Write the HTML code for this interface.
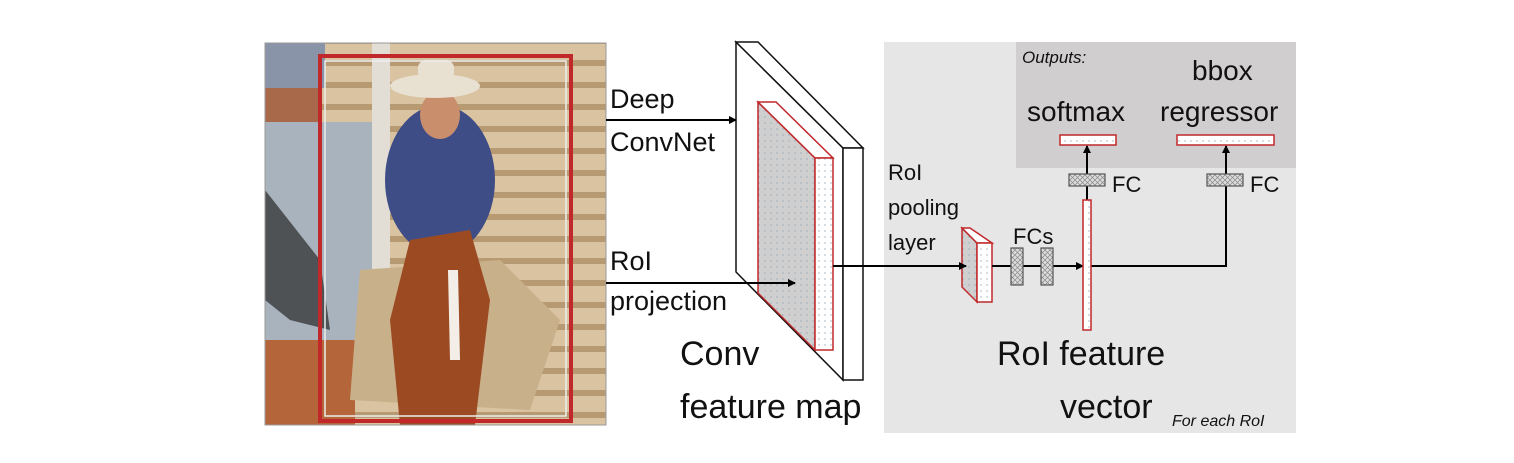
<!DOCTYPE html>
<html><head><meta charset="utf-8"><style>
body{margin:0;background:#fff;width:1514px;height:458px;overflow:hidden}
svg text{font-family:"Liberation Sans",sans-serif;fill:#111}
</style></head><body>
<svg width="1514" height="458" viewBox="0 0 1514 458" xmlns="http://www.w3.org/2000/svg">
<defs>
<pattern id="dots" width="6" height="6" patternUnits="userSpaceOnUse"><rect width="6" height="6" fill="#cfcfcf"/><circle cx="3" cy="3" r="0.7" fill="#9ab"/></pattern>
<pattern id="wdots" width="6" height="6" patternUnits="userSpaceOnUse"><rect width="6" height="6" fill="#fff"/><circle cx="3" cy="3" r="0.7" fill="#9ab"/></pattern>
<pattern id="hatch" width="5" height="5" patternUnits="userSpaceOnUse"><rect width="5" height="5" fill="#ddd"/><path d="M0 0L5 5M5 0L0 5" stroke="#888" stroke-width="0.7"/></pattern>
<pattern id="wood" width="40" height="22" patternUnits="userSpaceOnUse"><rect width="40" height="22" fill="#d9c3a0"/><rect y="16" width="40" height="6" fill="#b89a72"/></pattern>
<marker id="ah" markerWidth="8" markerHeight="8" refX="7" refY="4" orient="auto" markerUnits="userSpaceOnUse"><path d="M0 0L8 4L0 8z" fill="#000"/></marker>
</defs>
<!-- photo -->
<rect x="265" y="43" width="341" height="382" fill="url(#wood)"/>
<rect x="265" y="43" width="60" height="45" fill="#8a94a8"/>
<rect x="265" y="88" width="55" height="40" fill="#a8684a"/>
<rect x="265" y="122" width="112" height="230" fill="#a9b3bd"/>
<rect x="372" y="43" width="18" height="260" fill="#e2ddd5"/>
<path d="M265 190 L320 260 L330 330 L290 320 L265 300z" fill="#2a2a2a" opacity="0.7"/>
<rect x="265" y="340" width="90" height="85" fill="#b5653a"/>
<path d="M360 270 L350 400 L530 410 L560 320 L500 260z" fill="#c8b08a"/>
<ellipse cx="440" cy="180" rx="55" ry="75" fill="#3f4d86"/>
<ellipse cx="440" cy="115" rx="20" ry="24" fill="#c98e6c"/>
<ellipse cx="435" cy="86" rx="45" ry="12" fill="#e8e0d0"/>
<rect x="418" y="60" width="36" height="28" rx="8" fill="#e8e0d0"/>
<path d="M410 240 L470 230 L490 300 L475 425 L400 425 L390 320z" fill="#9c4a22"/>
<path d="M448 270 L458 270 L460 360 L450 360z" fill="#f3efe8"/>
<rect x="265" y="43" width="341" height="382" fill="none" stroke="#999" stroke-width="1"/>
<rect x="320" y="56" width="251" height="365" fill="none" stroke="#c0282a" stroke-width="4"/>
<rect x="325" y="61" width="241" height="355" fill="none" stroke="#eee" stroke-width="1.5"/>
<!-- gray panel -->
<rect x="884" y="42" width="412" height="391" fill="#e6e6e6"/>
<rect x="1016" y="42" width="280" height="126" fill="#d0cece"/>
<!-- conv map -->
<polygon points="736,42 843,148 843,380 736,272" fill="#fff" stroke="#111" stroke-width="1.5"/>
<polygon points="736,42 758,42 863,148 843,148" fill="#fff" stroke="#111" stroke-width="1.5"/>
<rect x="843" y="148" width="20" height="232" fill="#fff" stroke="#111" stroke-width="1.5"/>
<polygon points="758,102 815,158 815,350 758,293" fill="url(#dots)" stroke="#c0282a" stroke-width="1.5"/>
<polygon points="758,102 776,102 833,158 815,158" fill="#fff" stroke="#c0282a" stroke-width="1.5"/>
<rect x="815" y="158" width="18" height="192" fill="url(#wdots)" stroke="#c0282a" stroke-width="1.5"/>
<!-- pooling box -->
<polygon points="962,228 977,243 977,302 962,287" fill="url(#dots)" stroke="#c0282a" stroke-width="1.5"/>
<polygon points="962,228 970,228 992,243 977,243" fill="#fff" stroke="#c0282a" stroke-width="1.5"/>
<rect x="977" y="243" width="15" height="59" fill="url(#wdots)" stroke="#c0282a" stroke-width="1.5"/>
<!-- arrows -->
<g stroke="#000" stroke-width="2" fill="none">
<line x1="606" y1="120" x2="736" y2="120" marker-end="url(#ah)"/>
<line x1="606" y1="283" x2="795" y2="283" marker-end="url(#ah)"/>
<line x1="833" y1="266" x2="966" y2="266" marker-end="url(#ah)"/>
<line x1="992" y1="266" x2="1083" y2="266" marker-end="url(#ah)"/>
<polyline points="1091,266 1226,266 1226,186"/>
<line x1="1087" y1="200" x2="1087" y2="186"/>
<line x1="1087" y1="174" x2="1087" y2="146" marker-end="url(#ah)"/>
<line x1="1226" y1="174" x2="1226" y2="146" marker-end="url(#ah)"/>
</g>
<rect x="1011" y="248" width="12" height="37" fill="url(#hatch)" stroke="#555" stroke-width="1.2"/>
<rect x="1041" y="248" width="12" height="37" fill="url(#hatch)" stroke="#555" stroke-width="1.2"/>
<rect x="1069" y="174" width="36" height="12" fill="url(#hatch)" stroke="#555" stroke-width="1.2"/>
<rect x="1207" y="174" width="36" height="12" fill="url(#hatch)" stroke="#555" stroke-width="1.2"/>
<rect x="1083" y="200" width="8" height="130" fill="url(#wdots)" stroke="#c0282a" stroke-width="1.5"/>
<rect x="1060" y="135" width="56" height="10" fill="url(#wdots)" stroke="#c0282a" stroke-width="1.5"/>
<rect x="1177" y="135" width="97" height="10" fill="url(#wdots)" stroke="#c0282a" stroke-width="1.5"/>
<!-- text -->
<text x="610" y="108" font-size="27">Deep</text>
<text x="610" y="151" font-size="27">ConvNet</text>
<text x="610" y="270" font-size="27">RoI</text>
<text x="610" y="310" font-size="27">projection</text>
<text x="680" y="365" font-size="34">Conv</text>
<text x="680" y="418" font-size="34">feature map</text>
<text x="888" y="180" font-size="22">RoI</text>
<text x="888" y="215" font-size="22">pooling</text>
<text x="888" y="250" font-size="22">layer</text>
<text x="1013" y="244" font-size="22">FCs</text>
<text x="997" y="365" font-size="34">RoI feature</text>
<text x="1060" y="418" font-size="34">vector</text>
<text x="1172" y="426" font-size="16" font-style="italic">For each RoI</text>
<text x="1022" y="63" font-size="17" font-style="italic">Outputs:</text>
<text x="1192" y="80" font-size="28">bbox</text>
<text x="1027" y="121" font-size="28">softmax</text>
<text x="1160" y="121" font-size="28">regressor</text>
<text x="1112" y="192" font-size="22">FC</text>
<text x="1250" y="192" font-size="22">FC</text>
</svg>
</body></html>
